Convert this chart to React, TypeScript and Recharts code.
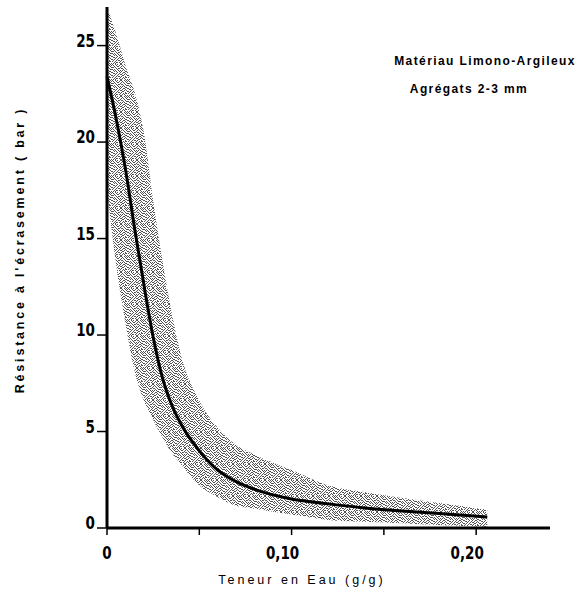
import { ComposedChart, Area, Line, XAxis, YAxis } from 'recharts';

// teneur en eau (g/g) and résistance (bar)
const waterContent = [0, 0.005, 0.01, 0.015, 0.02, 0.025, 0.03, 0.035, 0.04, 0.05, 0.06, 0.07, 0.08, 0.1, 0.12, 0.14, 0.16, 0.18, 0.206];
const resistanceMean = [23.4, 21.2, 18.6, 15.5, 12.6, 9.9, 7.8, 6.4, 5.4, 4.0, 3.0, 2.4, 2.0, 1.5, 1.25, 1.04, 0.88, 0.75, 0.57];
const resistanceUpper = [27, 25.6, 24.0, 22.6, 20.5, 17.0, 13.9, 11.2, 9.0, 6.6, 5.2, 4.3, 3.8, 3.0, 2.2, 1.85, 1.55, 1.3, 0.95];
const resistanceLower = [17.5, 13.6, 10.6, 8.1, 6.6, 5.6, 4.7, 3.9, 3.3, 2.2, 1.6, 1.15, 1.0, 0.7, 0.42, 0.32, 0.25, 0.15, 0.05];

const yTicks = [0, 5, 10, 15, 20, 25];
const xTicks = [0, 0.05, 0.1, 0.15, 0.2];
const xTickLabels = ['0', '', '0,10', '', '0,20'];

const data = waterContent.map((x, i) => ({
    x,
    mean: resistanceMean[i],
    band: [resistanceLower[i], resistanceUpper[i]],
}));

// stipple texture for the dispersion band (1 = dark pixel)
const stippleMask = [
    '1001010011001010',
    '0100100100100101',
    '0010011001010010',
    '1101000010001001',
    '0000101101100100',
    '1010010000010011',
    '0101001010101000',
    '0010100101000110',
    '1000010010011001',
    '0110100100100100',
    '0001001011001010',
    '1010010000110001',
    '0100101101000100',
    '1001000010010110',
    '0010110100101000',
    '0101000011000101',
];

const tickFont = "'DejaVu Sans', sans-serif";
const textFont = "'Liberation Sans', Arial, sans-serif";

function YTick({ x, y, payload }: any) {
    return (
        <g transform={`translate(${x},${y + 1}) scale(0.75,1)`}>
            <text x={0} y={0} textAnchor="end" fontFamily={tickFont} fontWeight="bold" fontSize={18} fill="#000">
                {payload.value}
            </text>
        </g>
    );
}

function XTick({ x, y, payload, index }: any) {
    const label = xTickLabels[index] ?? '';
    if (!label) return null;
    const cx = payload.value === 0 ? x : x - 9;
    return (
        <g transform={`translate(${cx},${y + 22}) scale(0.75,1)`}>
            <text x={0} y={0} textAnchor="middle" fontFamily={tickFont} fontWeight="bold" fontSize={18} fill="#000">
                {label}
            </text>
        </g>
    );
}

export default function App() {
    return (
        <div style={{ position: 'absolute', left: 0, top: 0, width: 581, height: 591, background: '#fff' }}>
            <ComposedChart width={581} height={591} data={data} margin={{ top: 7, right: 31, bottom: 0, left: 0 }}>
                <defs>
                    <pattern id="stipple" width="16" height="16" patternUnits="userSpaceOnUse">
                        <rect width="16" height="16" fill="#ffffff" />
                        {stippleMask.flatMap((row, r) =>
                            row.split('').map((c, col) =>
                                c === '1' ? <rect key={`${r}-${col}`} x={col} y={r} width="1" height="1" fill="#1a1a1a" /> : null
                            )
                        )}
                    </pattern>
                </defs>
                <XAxis
                    type="number"
                    dataKey="x"
                    domain={[0, 0.24]}
                    ticks={xTicks}
                    height={63}
                    axisLine={{ stroke: '#000', strokeWidth: 3 }}
                    tickLine={{ stroke: '#000', strokeWidth: 1.5 }}
                    tickSize={7}
                    tick={<XTick />}
                    interval={0}
                />
                <YAxis
                    type="number"
                    domain={[0, 27]}
                    ticks={yTicks}
                    width={107}
                    axisLine={{ stroke: '#000', strokeWidth: 3 }}
                    tickLine={{ stroke: '#000', strokeWidth: 1.5 }}
                    tickSize={10}
                    tick={<YTick />}
                    interval={0}
                />
                <Area
                    type="monotone"
                    dataKey="band"
                    stroke="none"
                    fill="url(#stipple)"
                    fillOpacity={0.75}
                    isAnimationActive={false}
                />
                <Line
                    type="monotone"
                    dataKey="mean"
                    stroke="#000"
                    strokeWidth={3}
                    dot={false}
                    isAnimationActive={false}
                />
            </ComposedChart>

            <svg width={581} height={591} style={{ position: 'absolute', left: 0, top: 0, pointerEvents: 'none' }}>
                <text x={485} y={65} textAnchor="middle" fontFamily={textFont} fontWeight={600} fontSize={12} letterSpacing={1.4} fill="#000">
                    Matériau Limono-Argileux
                </text>
                <text x={469} y={93} textAnchor="middle" fontFamily={textFont} fontWeight={600} fontSize={12} letterSpacing={1.4} fill="#000">
                    Agrégats 2-3 mm
                </text>
                <text x={302} y={584} textAnchor="middle" fontFamily={textFont} fontSize={12.5} letterSpacing={3} fill="#000">
                    Teneur en Eau (g/g)
                </text>
                <text
                    x={0}
                    y={0}
                    transform="translate(24 250) rotate(-90)"
                    textAnchor="middle"
                    fontFamily={textFont}
                    fontWeight={600}
                    fontSize={12.5}
                    letterSpacing={2.8}
                    fill="#000"
                >
                    Résistance à l'écrasement ( bar )
                </text>
            </svg>
        </div>
    );
}
